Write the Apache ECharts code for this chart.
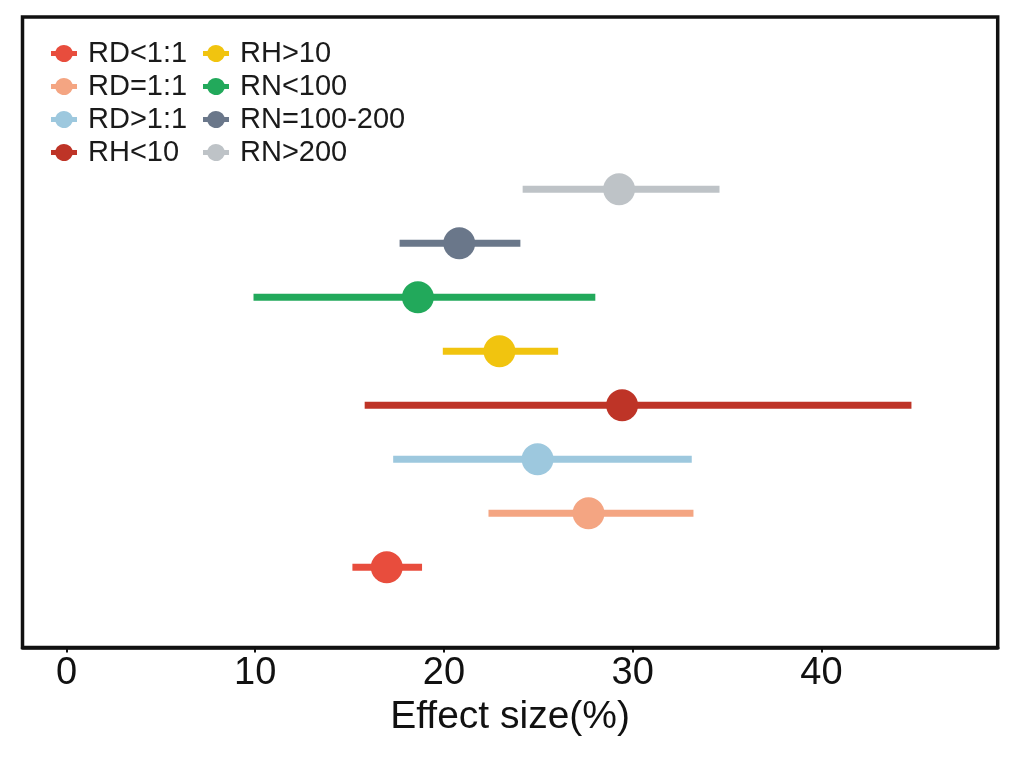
<!DOCTYPE html>
<html>
<head>
<meta charset="utf-8">
<script src="https://cdn.jsdelivr.net/npm/echarts@6/dist/echarts.min.js"></script>
<style>
html,body{margin:0;padding:0;background:#fff;}
#chart{width:1022px;height:757px;}
</style>
</head>
<body>
<div id="chart"></div>
<script>
const categories = ['RD<1:1','RD=1:1','RD>1:1','RH<10','RH>10','RN<100','RN=100-200','RN>200'];
const means = [16.97, 27.66, 24.96, 29.44, 22.94, 18.62, 20.81, 29.28];
const lows  = [15.15, 22.36, 17.31, 15.80, 19.94, 9.91, 17.65, 24.17];
const highs = [18.84, 33.22, 33.13, 44.77, 26.05, 28.02, 24.05, 34.60];
const colors = ['#E84D3D','#F4A582','#9DC8DE','#BE3427','#F1C40F','#22A95B','#6A778A','#BEC3C7'];
const xTicks = [0, 10, 20, 30, 40];

const FONT = '"Liberation Sans", Arial, sans-serif';
const ICON = 'path://M0,6.5H4.51A9,9 0 0 1 21.49,6.5H26V11.5H21.49A9,9 0 0 1 4.51,11.5H0Z';

const series = [];
categories.forEach((c, i) => {
  series.push({
    name: c, type: 'line',
    data: [[lows[i], i], [highs[i], i]],
    symbol: 'none', silent: true,
    lineStyle: { color: colors[i], width: 7, cap: 'butt' },
    itemStyle: { color: colors[i] },
    z: 2
  });
});
categories.forEach((c, i) => {
  series.push({
    name: c, type: 'scatter',
    data: [[means[i], i]],
    symbol: 'circle', symbolSize: 32, silent: true,
    itemStyle: { color: colors[i], opacity: 1 },
    z: 3
  });
});

const legendCommon = {
  orient: 'vertical', icon: ICON, itemWidth: 26, itemHeight: 18, itemGap: 4, padding: 0,
  textStyle: { fontFamily: FONT, fontSize: 29, color: '#1a1a1a', lineHeight: 28, padding: [0,0,0,6] },
  top: 39, selectedMode: false
};

const chart = echarts.init(document.getElementById('chart'), null, { renderer: 'canvas' });
chart.setOption({
  animation: false,
  backgroundColor: '#fff',
  grid: { left: 22.5, right: 24.3, top: 17, bottom: 109.5, show: true, borderColor: '#111', borderWidth: 3.5, backgroundColor: 'transparent' },
  legend: [
    Object.assign({}, legendCommon, { left: 51, data: categories.slice(0, 4) }),
    Object.assign({}, legendCommon, { left: 203, data: categories.slice(4) })
  ],
  xAxis: {
    type: 'value', min: -2.33, max: 49.34,
    name: 'Effect size(%)', nameLocation: 'middle', nameGap: 50,
    nameTextStyle: { fontFamily: FONT, fontSize: 39, color: '#111' },
    axisLine: { show: true, onZero: false, lineStyle: { color: '#111', width: 3.5 } },
    axisTick: { show: true, customValues: xTicks, length: 5, lineStyle: { color: '#111', width: 2 } },
    axisLabel: { customValues: xTicks, fontFamily: FONT, fontSize: 38, color: '#111', margin: 7 },
    splitLine: { show: false }
  },
  yAxis: {
    type: 'value', min: -1.485, max: 10.19,
    axisLine: { show: false }, axisTick: { show: false }, axisLabel: { show: false }, splitLine: { show: false }
  },
  series: series
});
</script>
</body>
</html>
